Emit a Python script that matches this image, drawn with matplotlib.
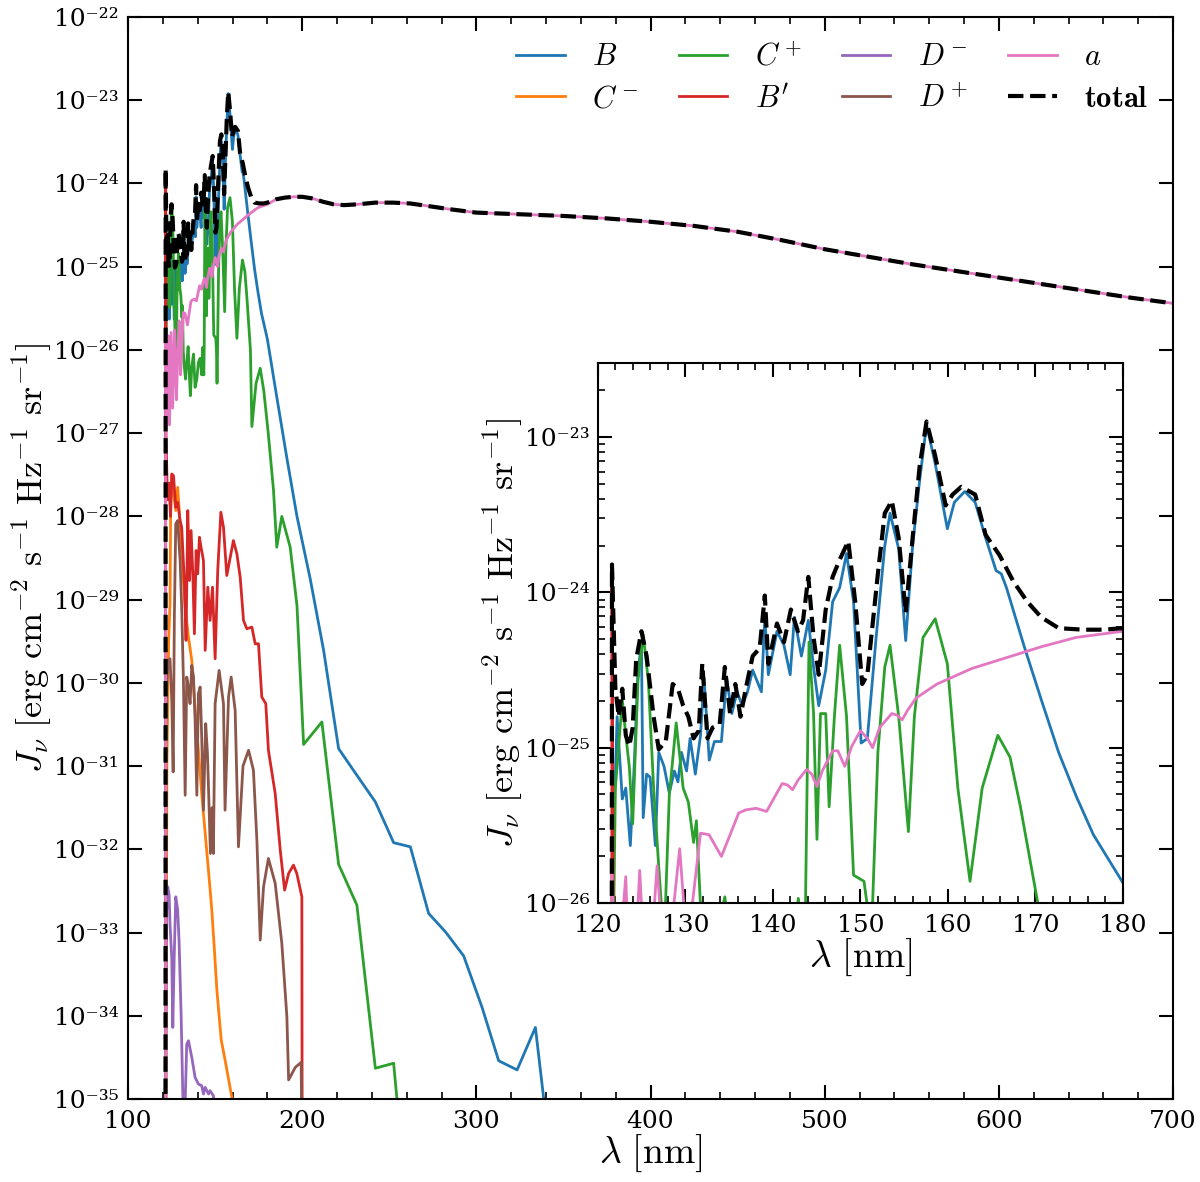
import numpy as np
import matplotlib
matplotlib.use("Agg")
import matplotlib.pyplot as plt
from matplotlib.ticker import MultipleLocator, FixedLocator, LogLocator, FuncFormatter, NullFormatter

plt.rcParams["font.family"] = "DejaVu Serif"
plt.rcParams["mathtext.fontset"] = "cm"

# values: wavelength [nm] and log10 J_nu
# -36 marks a point that drops below the plotted range
lam_B = [121.65, 122.19, 122.78, 123.18, 123.70, 124.17, 124.57, 124.97, 125.17, 125.56,
         125.96, 126.56, 126.95, 127.55, 128.15, 128.74, 129.14, 129.54, 130.13, 130.53,
         131.13, 131.72, 132.12, 132.72, 133.31, 134.11, 134.70, 135.30, 135.89, 136.49,
         137.09, 137.68, 138.68, 139.07, 139.47, 140.46, 141.26, 141.97, 142.45, 143.25,
         144.04, 144.64, 145.23, 146.03, 146.82, 147.62, 148.41, 149.21, 150.08, 150.79,
         151.79, 152.78, 153.38, 154.37, 155.17, 155.96, 156.76, 157.55, 158.54, 159.93,
         160.73, 161.92, 163.11, 164.31, 165.50, 166.09, 166.69, 168.67, 170.66, 172.65,
         174.64, 176.62, 180.0, 184.5, 191.2, 197.0, 204.6, 212.3, 220.9, 231.4,
         242.0, 252.5, 262.1, 272.6, 282.2, 292.7, 303.3, 312.8, 323.4, 333.9,
         338.7, 340.0]
logJ_B = [-25.8, -24.80, -25.33, -25.26, -25.63, -25.08, -24.50, -24.34, -25.45, -25.17,
          -25.19, -25.63, -25.03, -25.12, -25.29, -25.15, -25.22, -25.03, -25.15, -24.94,
          -25.17, -24.92, -24.55, -25.08, -24.96, -24.96, -24.55, -24.78, -24.64, -24.73,
          -24.64, -24.50, -24.64, -24.16, -24.53, -24.25, -24.34, -24.53, -24.16, -24.41,
          -24.18, -24.48, -24.73, -24.50, -24.06, -23.97, -23.75, -24.06, -24.97, -24.94,
          -24.29, -23.70, -23.49, -23.72, -24.31, -23.70, -23.28, -22.92, -23.17, -23.59,
          -23.42, -23.35, -23.42, -23.65, -23.86, -23.88, -23.97, -24.34, -24.69, -25.03,
          -25.31, -25.56, -25.87, -26.45, -27.30, -28.00, -28.75, -29.61, -30.79, -31.11,
          -31.43, -31.92, -31.97, -32.77, -32.99, -33.28, -33.90, -34.54, -34.65, -34.14,
          -35.0, -36.0]

lam_Cm = [121.7, 122.3, 123.3, 124.1, 124.5, 125.1, 126.4, 127.4, 128.5, 129.3,
          130.8, 132.8, 134.7, 136.6, 137.6, 138.8, 140.4, 142.3, 144.3, 146.5,
          148.1, 149.6, 151.0, 153.5, 155.7, 159.6, 160.5]
logJ_Cm = [-36.0, -31.0, -29.5, -29.05, -27.85, -27.51, -27.77, -27.93, -27.65, -27.89,
           -28.45, -29.09, -29.45, -29.73, -30.05, -30.40, -30.81, -31.33, -31.81, -32.33,
           -32.73, -33.21, -33.69, -34.29, -34.53, -34.98, -36.0]

lam_Cp = [121.7, 121.99, 122.78, 123.18, 123.58, 123.97, 124.57, 125.17, 125.76, 126.36,
          126.95, 127.35, 127.6, 128.15, 128.94, 129.74, 130.33, 130.93, 131.25, 131.72,
          132.3, 133.0, 133.7, 134.5, 135.2, 135.8, 136.6, 137.6, 138.5, 139.5,
          140.4, 141.4, 142.3, 142.9, 143.5, 143.72, 144.12, 144.64, 145.03, 145.43,
          146.03, 146.42, 147.02, 147.62, 148.41, 149.21, 150.40, 150.79, 151.1, 151.39,
          151.99, 152.78, 153.38, 154.37, 155.48, 156.16, 157.15, 158.54, 159.93, 161.13,
          162.52, 163.91, 165.70, 167.09, 168.28, 170.27, 171.1, 173.5, 175.9, 178.0,
          180.5, 183.5, 185.4, 188.3, 193.1, 197.0, 200.8, 211.3, 220.9, 231.4,
          242.0, 252.5, 254.4, 255.0]
logJ_Cp = [-26.5, -25.26, -24.69, -24.92, -25.12, -25.49, -24.57, -24.27, -24.57, -25.26,
           -25.77, -26.09, -26.2, -25.31, -24.84, -25.26, -25.35, -25.61, -25.47, -26.02,
           -26.2, -26.35, -26.16, -25.96, -26.3, -26.55, -26.2, -26.05, -26.45, -26.35,
           -26.15, -26.1, -26.3, -25.97, -26.3, -26.0, -24.32, -24.78, -25.59, -24.78,
           -24.78, -25.38, -24.80, -24.34, -24.80, -25.82, -25.86, -26.02, -26.4, -26.0,
           -25.03, -24.48, -24.34, -24.80, -25.54, -24.80, -24.29, -24.17, -24.46, -25.26,
           -25.86, -25.26, -24.92, -25.06, -25.38, -26.0, -26.92, -26.40, -26.22, -26.50,
           -27.0, -27.68, -28.37, -28.00, -28.37, -29.07, -30.74, -30.47, -32.18, -32.67,
           -34.63, -34.57, -35.0, -36.0]

lam_Bp = [121.5, 121.6, 121.8, 122.6, 123.5, 124.4, 125.1, 126.1, 127.4, 128.5,
          129.9, 130.8, 132.4, 133.3, 134.3, 135.3, 136.2, 137.2, 138.1, 139.1,
          140.0, 141.0, 141.9, 143.3, 144.3, 145.8, 147.1, 148.5, 150.0, 151.5,
          153.3, 154.8, 156.7, 160.5, 162.5, 164.4, 166.3, 168.2, 171.1, 173.0,
          174.9, 176.8, 179.1, 180.6, 184.5, 187.4, 189.9, 192.2, 195.0, 196.9,
          199.8, 200.0]
logJ_Bp = [-36.0, -23.93, -27.0, -27.8, -27.6, -28.0, -27.49, -27.51, -27.89, -27.83,
           -28.05, -28.13, -28.81, -29.49, -27.93, -28.77, -28.17, -28.69, -29.41, -28.41,
           -28.69, -28.25, -28.37, -28.53, -29.61, -28.85, -29.25, -28.85, -29.71, -28.65,
           -27.95, -28.13, -28.71, -28.29, -28.45, -28.73, -29.25, -29.35, -29.33, -29.53,
           -29.53, -30.17, -30.25, -30.81, -31.33, -32.01, -32.49, -32.29, -32.19, -32.29,
           -32.57, -36.0]

lam_Dm = [121.6, 122.0, 122.8, 123.6, 124.1, 125.1, 125.7, 126.5, 127.4, 128.5,
          129.3, 130.5, 131.8, 132.6, 133.7, 134.7, 136.6, 138.5, 140.4, 142.3,
          143.3, 144.3, 146.2, 147.1, 149.0, 150.0]
logJ_Dm = [-36.0, -32.8, -32.45, -32.55, -32.9, -33.3, -34.14, -33.3, -32.57, -32.73,
           -33.1, -34.0, -35.3, -35.2, -34.34, -34.30, -34.50, -34.74, -34.82, -34.84,
           -34.94, -34.86, -34.94, -34.90, -34.96, -35.2]

lam_Dp = [121.6, 121.7, 122.5, 123.2, 124.1, 125.1, 125.9, 126.6, 127.4, 128.5,
          129.9, 130.8, 131.8, 132.8, 133.7, 134.7, 135.6, 136.6, 137.6, 138.5,
          139.5, 140.4, 141.4, 142.3, 143.3, 144.6, 145.6, 146.4, 147.3, 148.2,
          149.0, 150.0, 152.3, 154.8, 155.7, 157.7, 159.2, 161.5, 163.4, 166.0,
          169.2, 172.0, 174.0, 175.9, 177.8, 180.6, 184.5, 188.3, 191.2, 192.2,
          196.0, 199.4, 200.0]
logJ_Dp = [-36.0, -30.5, -29.9, -29.73, -29.71, -30.2, -31.07, -29.2, -28.09, -28.05,
           -28.53, -29.09, -29.97, -31.35, -29.93, -30.05, -30.25, -29.79, -29.93, -30.45,
           -31.35, -30.13, -30.05, -30.65, -31.53, -30.49, -30.85, -31.4, -32.05, -31.5,
           -32.05, -30.25, -29.85, -30.25, -31.53, -30.17, -29.93, -30.33, -31.97, -31.0,
           -30.81, -31.05, -31.9, -33.09, -32.45, -32.11, -32.41, -33.13, -34.01, -34.77,
           -34.62, -34.56, -36.0]

# long-wavelength part shared by a and total
lam_tail = [185, 190, 195, 200, 206, 212, 218, 224, 232, 242, 252, 262, 272, 285, 300,
            325, 350, 375, 400, 425, 450, 475, 500, 525, 550, 575, 600, 625, 650, 675, 700]
logJ_tail = [-24.19, -24.17, -24.16, -24.16, -24.18, -24.22, -24.25, -24.26, -24.25, -24.23,
             -24.23, -24.24, -24.27, -24.31, -24.35, -24.37, -24.39, -24.42, -24.46, -24.51,
             -24.58, -24.68, -24.79, -24.88, -24.97, -25.05, -25.13, -25.21, -25.29, -25.37,
             -25.44]

lam_a = [121.55, 121.62, 122.0, 122.5, 123.18, 123.8, 124.77, 125.6, 126.76, 127.8,
         128.5, 129.34, 130.2, 130.8, 131.72, 132.7, 134.11, 136.09, 136.89, 138.08,
         139.27, 140.07, 141.06, 141.66, 142.25, 142.85, 143.84, 144.44, 145.03, 145.63,
         146.82, 147.42, 148.21, 149.01, 150.00, 150.79, 151.39, 152.19, 153.58, 154.17,
         154.77, 155.37, 156.36, 158.74, 162.72, 166.69, 170.66, 174.64, 180.0] + lam_tail
logJ_a = [-36.0, -25.8, -26.8, -26.3, -25.83, -26.9, -25.79, -26.7, -25.76, -26.6,
          -26.1, -25.65, -26.3, -26.0, -25.55, -25.56, -25.70, -25.42, -25.40, -25.39,
          -25.41, -25.33, -25.23, -25.24, -25.27, -25.21, -25.14, -25.17, -25.25, -25.15,
          -25.02, -25.02, -25.12, -24.99, -24.89, -24.94, -25.00, -24.87, -24.78, -24.79,
          -24.82, -24.76, -24.68, -24.59, -24.49, -24.42, -24.35, -24.29, -24.25] + logJ_tail

lam_tot = [121.5, 121.6, 121.99, 122.38, 122.78, 123.18, 123.58, 123.97, 124.37, 124.97,
           125.56, 126.36, 126.95, 127.75, 128.54, 129.14, 129.74, 130.33, 130.93, 131.52,
           131.92, 132.52, 133.11, 133.91, 134.50, 135.10, 135.70, 136.29, 136.89, 137.68,
           138.48, 139.07, 139.47, 140.46, 141.26, 142.05, 142.85, 143.44, 144.04, 144.64,
           145.23, 146.03, 146.82, 147.62, 148.61, 149.40, 150.20, 150.79, 151.99, 152.78,
           153.58, 154.37, 155.17, 155.96, 156.76, 157.55, 158.54, 159.74, 160.53, 161.52,
           163.11, 164.31, 165.89, 167.48, 169.07, 170.66, 172.65, 175.43, 177.82, 180.0] + lam_tail
logJ_tot = [-36.0, -23.82, -24.62, -24.80, -24.62, -24.92, -24.99, -24.87, -24.43, -24.25,
            -24.41, -24.80, -25.01, -24.96, -24.59, -24.62, -24.73, -24.80, -24.94, -24.89,
            -24.46, -24.94, -24.87, -24.85, -24.48, -24.78, -24.59, -24.80, -24.62, -24.41,
            -24.36, -24.02, -24.46, -24.20, -24.32, -24.11, -24.25, -24.18, -23.90, -24.29,
            -24.53, -24.11, -23.90, -23.79, -23.67, -24.06, -24.59, -24.53, -23.88, -23.49,
            -23.41, -23.65, -24.13, -23.65, -23.19, -22.90, -23.12, -23.44, -23.37, -23.32,
            -23.37, -23.63, -23.76, -23.93, -24.06, -24.16, -24.23, -24.24, -24.24, -24.23] + logJ_tail

series = [
    (lam_B, logJ_B, r"$B$"),
    (lam_Cm, logJ_Cm, r"$C^-$"),
    (lam_Cp, logJ_Cp, r"$C^+$"),
    (lam_Bp, logJ_Bp, r"$B'$"),
    (lam_Dm, logJ_Dm, r"$D^-$"),
    (lam_Dp, logJ_Dp, r"$D^+$"),
    (lam_a, logJ_a, r"$a$"),
]

ylab = r"$J_\nu\ [\mathrm{erg\ cm^{-2}\ s^{-1}\ Hz^{-1}\ sr^{-1}}]$"
xlab = r"$\lambda\ [\mathrm{nm}]$"
sup = str.maketrans("-0123456789", "\u207b\u2070\u00b9\u00b2\u00b3\u2074\u2075\u2076\u2077\u2078\u2079")
dec_fmt = FuncFormatter(lambda v, p: "10" + str(int(round(np.log10(v)))).translate(sup))


def draw(ax):
    for lam, lj, lab in series:
        ax.plot(lam, 10.0 ** np.array(lj), lw=2, label=lab)
    ax.plot(lam_tot, 10.0 ** np.array(logJ_tot), "k--", lw=3, label=r"$\mathbf{total}$")
    ax.set_yscale("log")
    ax.tick_params(which="both", direction="in", top=True, right=True, labelsize=18)
    ax.tick_params(which="major", length=10, width=1.5)
    ax.tick_params(which="minor", length=5, width=1.2)
    for s in ax.spines.values():
        s.set_linewidth(1.5)


fig = plt.figure(figsize=(12, 11.82), dpi=100)
ax = fig.add_axes([0.1067, 0.0702, 0.8708, 0.9154])
draw(ax)
ax.set_xlim(100, 700)
ax.set_ylim(1e-35, 1e-22)
ax.xaxis.set_major_locator(MultipleLocator(100))
ax.xaxis.set_minor_locator(MultipleLocator(20))
ax.yaxis.set_major_locator(FixedLocator([10.0 ** k for k in range(-35, -21)]))
ax.yaxis.set_minor_locator(FixedLocator([]))
ax.yaxis.set_major_formatter(dec_fmt)
ax.tick_params(axis="x", pad=8)
ax.tick_params(axis="y", pad=7)
ax.set_xlabel(xlab, fontsize=27, labelpad=0)
ax.set_ylabel(ylab, fontsize=26, labelpad=0)
ax.legend(ncol=4, loc="upper right", frameon=False, fontsize=22,
          handlelength=1.6, handletextpad=0.9, columnspacing=1.3,
          borderaxespad=0.4, labelspacing=0.35)

ins = fig.add_axes([0.4983, 0.2360, 0.4375, 0.4569])
draw(ins)
ins.set_xlim(120, 180)
ins.set_ylim(1e-26, 3e-23)
ins.xaxis.set_major_locator(MultipleLocator(10))
ins.xaxis.set_minor_locator(MultipleLocator(2))
ins.yaxis.set_major_locator(FixedLocator([1e-26, 1e-25, 1e-24, 1e-23]))
ins.yaxis.set_minor_locator(LogLocator(base=10, subs=np.arange(2, 10), numticks=10))
ins.yaxis.set_major_formatter(dec_fmt)
ins.yaxis.set_minor_formatter(NullFormatter())
ins.tick_params(axis="x", pad=8)
ins.tick_params(axis="y", pad=6)
ins.set_xlabel(xlab, fontsize=27, labelpad=0)
ins.set_ylabel(ylab, fontsize=26, labelpad=0)

fig.savefig("out.png", dpi=100)
